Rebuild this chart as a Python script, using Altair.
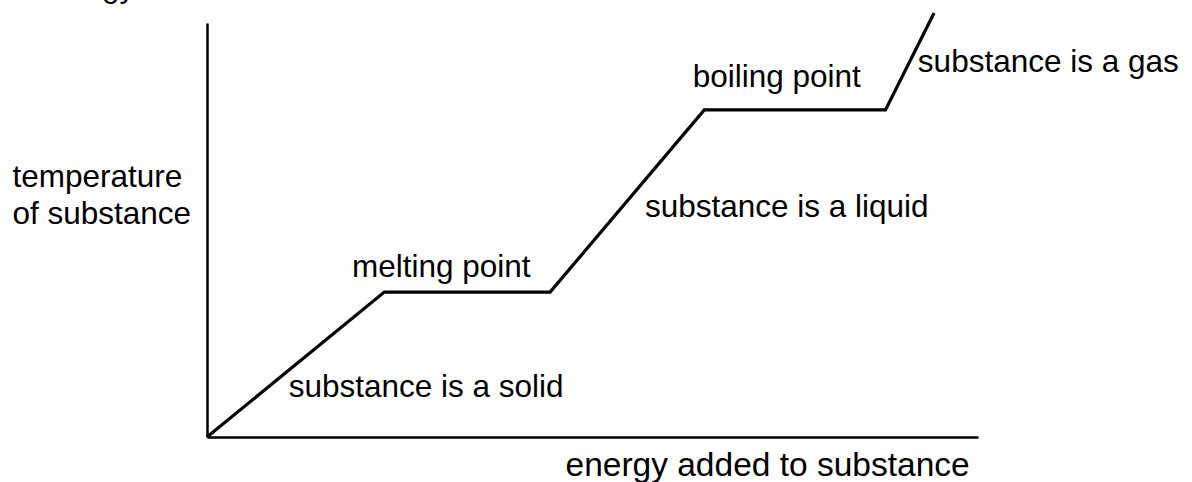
import altair as alt
import pandas as pd

# Heating curve: energy added (arbitrary units) vs temperature (arbitrary units)
energy = [0, 23, 44.5, 64.5, 88, 94.3]
temperature = [0, 35, 35, 79, 79, 102.4]

# Phase annotations and where they sit on the same scales
labels = ["melting point", "substance is a solid", "substance is a liquid",
          "boiling point", "substance is a gas"]
label_energy = [18.8, 10.6, 56.8, 63.0, 92.2]
label_temp = [38.6, 9.7, 53.1, 84.5, 88.2]

FONT = "Liberation Sans"
FS = 31.5

curve_df = pd.DataFrame({"energy": energy, "temperature": temperature,
                         "order": list(range(len(energy)))})
label_df = pd.DataFrame({"label": labels, "energy": label_energy,
                         "temperature": label_temp})
head_df = pd.DataFrame({"label": ["energy"], "energy": [-9.3], "temperature": [106.3]})

x_scale = alt.Scale(domain=[0, 100], nice=False, zero=False)
y_scale = alt.Scale(domain=[0, 100], nice=False, zero=False)

x_axis = alt.Axis(title="energy added to substance", labels=False, ticks=False,
                  grid=False, domainColor="black", domainWidth=2.5,
                  titleFont=FONT, titleFontSize=33.5, titleFontWeight="normal",
                  titleColor="black", titleAlign="left", titleBaseline="alphabetic",
                  titleAnchor="start", titleX=358, titleY=38)
y_axis = alt.Axis(title=["temperature", "of substance"], labels=False, ticks=False,
                  grid=False, domainColor="black", domainWidth=2.5,
                  titleFont=FONT, titleFontSize=FS, titleFontWeight="normal",
                  titleColor="black", titleAngle=0, titleAlign="left",
                  titleBaseline="alphabetic", titleLineHeight=37,
                  titleX=-195, titleY=163)

curve = alt.Chart(curve_df).mark_line(color="black", strokeWidth=3.2,
                                      strokeJoin="miter", clip=False).encode(
    x=alt.X("energy:Q", scale=x_scale, axis=x_axis),
    y=alt.Y("temperature:Q", scale=y_scale, axis=y_axis),
    order="order:Q",
)

text = alt.Chart(label_df).mark_text(font=FONT, fontSize=FS, color="black",
                                     align="left", baseline="alphabetic").encode(
    x=alt.X("energy:Q", scale=x_scale),
    y=alt.Y("temperature:Q", scale=y_scale),
    text="label:N",
)

heading = alt.Chart(head_df).mark_text(font=FONT, fontSize=FS, color="black",
                                       align="right", baseline="alphabetic").encode(
    x=alt.X("energy:Q", scale=x_scale),
    y=alt.Y("temperature:Q", scale=y_scale),
    text="label:N",
)

chart = alt.layer(curve, text, heading).properties(
    width=771, height=414,
    padding={"left": 207, "top": 23, "right": 214, "bottom": 45},
    autosize=alt.AutoSizeParams(type="none"),
    background="white",
).configure_view(stroke=None)

chart.save("out.html", embed_options={"renderer": "svg", "actions": False})
